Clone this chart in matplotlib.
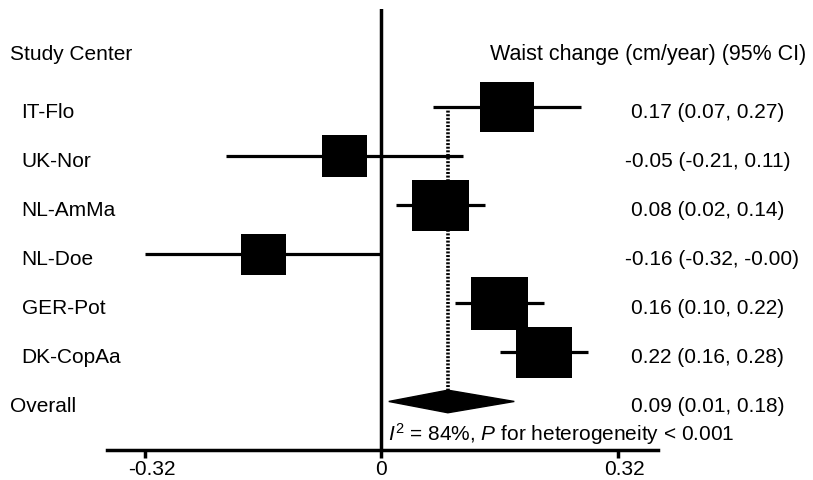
import numpy as np
import matplotlib

matplotlib.use("Agg")
import matplotlib.pyplot as plt
from matplotlib.patches import Polygon, Rectangle
from matplotlib.transforms import ScaledTranslation, blended_transform_factory

plt.rcParams["font.family"] = ["Liberation Sans", "DejaVu Sans"]
plt.rcParams["mathtext.fontset"] = "custom"
plt.rcParams["mathtext.rm"] = "Liberation Sans"
plt.rcParams["mathtext.it"] = "Liberation Sans:italic"

# per-centre estimates (cm/year) with 95% CI, and relative study weights (%)
STUDIES = ["IT-Flo", "UK-Nor", "NL-AmMa", "NL-Doe", "GER-Pot", "DK-CopAa"]
ESTIMATES = [0.17, -0.05, 0.08, -0.16, 0.16, 0.22]
CI_LOW = [0.07, -0.21, 0.02, -0.32, 0.10, 0.16]
CI_HIGH = [0.27, 0.11, 0.14, -0.0, 0.22, 0.28]  # -0.0 keeps the "-0.00" label
WEIGHTS = [17.7, 12.6, 19.0, 12.3, 19.7, 18.7]

OVERALL_EST = 0.09
OVERALL_LOW = 0.01
OVERALL_HIGH = 0.18

X_TICKS = [-0.32, 0, 0.32]
X_TICK_LABELS = ["-0.32", "0", "0.32"]

HEADER_LEFT = "Study Center"
HEADER_RIGHT = "Waist change (cm/year) (95% CI)"
OVERALL_LABEL = "Overall"
HETEROGENEITY = r"$\mathit{I}^{\mathrm{2}}$ = 84%, $\mathit{P}$ for heterogeneity < 0.001"

DPI = 100
FIG_W, FIG_H = 813, 480
FONT_SIZE = 15
LINE_W = 2.3
TEXT_DROP = 0.22  # baseline of row text sits a bit below the CI line


def ci_label(est: float, lo: float, hi: float) -> str:
    return f"{est:.2f} ({lo:.2f}, {hi:.2f})"


def main() -> None:
    fig = plt.figure(figsize=(FIG_W / DPI, FIG_H / DPI), dpi=DPI)
    ax_rect = [0.1312, 0.0615, 0.6781, 0.9191]
    ax = fig.add_axes(ax_rect)

    n = len(STUDIES)
    xlim = (-0.3721, 0.3746)
    ylim = (n + 1, -2)
    ax.set_xlim(*xlim)
    ax.set_ylim(*ylim)

    px_per_x = ax_rect[2] * FIG_W / (xlim[1] - xlim[0])
    px_per_row = ax_rect[3] * FIG_H / abs(ylim[0] - ylim[1])

    # null line and pooled-estimate reference
    ax.axvline(0, color="black", lw=2.5, zorder=2)
    diamond_half = 11.3 / px_per_row
    ax.plot([OVERALL_EST, OVERALL_EST], [0, n - diamond_half], color="black",
            lw=2.6, linestyle=(0, (0.55, 0.45)), zorder=1)

    for i, (est, lo, hi, w) in enumerate(zip(ESTIMATES, CI_LOW, CI_HIGH, WEIGHTS)):
        ax.plot([lo, hi], [i, i], color="black", lw=LINE_W, solid_capstyle="butt", zorder=3)
        side = 12.9 * np.sqrt(w)
        bw = side / px_per_x
        bh = 0.92 * side / px_per_row
        ax.add_patch(Rectangle((est - bw / 2, i - bh / 2), bw, bh,
                               facecolor="black", edgecolor="none", zorder=4))

    ax.add_patch(Polygon([(OVERALL_LOW, n), (OVERALL_EST, n - diamond_half),
                          (OVERALL_HIGH, n), (OVERALL_EST, n + diamond_half)],
                         closed=True, facecolor="black", edgecolor="black",
                         lw=1.0, zorder=4))

    for side in ["top", "left", "right"]:
        ax.spines[side].set_visible(False)
    ax.spines["bottom"].set_linewidth(2.5)
    ax.set_yticks([])
    ax.set_xticks(X_TICKS)
    ax.set_xticklabels(X_TICK_LABELS)
    ax.tick_params(axis="x", direction="out", length=6, width=2.5,
                   labelsize=FONT_SIZE, pad=0.5)
    for tick, text in zip(ax.xaxis.get_major_ticks(), X_TICK_LABELS):
        if text != "0":
            tick.label1.set_transform(tick.label1.get_transform()
                                      + ScaledTranslation(7 / DPI, 0, fig.dpi_scale_trans))

    # text columns
    trans = blended_transform_factory(fig.transFigure, ax.transData)
    left_x = 10 / FIG_W
    study_x = 21.5 / FIG_W
    value_x = 631 / FIG_W
    minus_shift = ScaledTranslation(-6.5 / DPI, 0, fig.dpi_scale_trans)

    fig.text(left_x, -0.964, HEADER_LEFT, transform=trans, fontsize=FONT_SIZE, va="baseline")
    fig.text(490 / FIG_W, -0.964, HEADER_RIGHT, transform=trans, fontsize=15.5, va="baseline")

    labels = [ci_label(e, lo, hi) for e, lo, hi in zip(ESTIMATES, CI_LOW, CI_HIGH)]
    labels.append(ci_label(OVERALL_EST, OVERALL_LOW, OVERALL_HIGH))
    for i, name in enumerate(STUDIES):
        fig.text(study_x, i + TEXT_DROP, name, transform=trans, fontsize=FONT_SIZE, va="baseline")
    fig.text(left_x, n + TEXT_DROP, OVERALL_LABEL, transform=trans, fontsize=FONT_SIZE, va="baseline")

    for i, label in enumerate(labels):
        tr = trans + minus_shift if label.startswith("-") else trans
        fig.text(value_x, i + TEXT_DROP, label, transform=tr, fontsize=FONT_SIZE, va="baseline")

    ax.text(0.009, n + 0.81, HETEROGENEITY, fontsize=FONT_SIZE, va="baseline", ha="left")

    fig.savefig("out.png", dpi=DPI)
    plt.close(fig)


if __name__ == "__main__":
    main()
